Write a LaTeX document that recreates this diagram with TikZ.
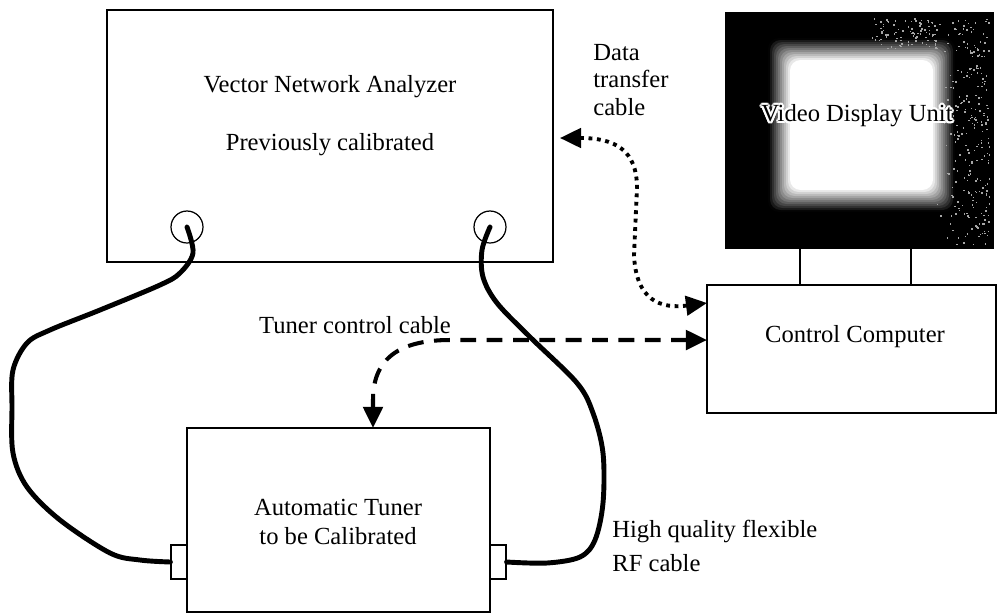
\documentclass[tikz,border=0pt]{standalone}
\usepackage{fontspec}
\setmainfont{Liberation Serif}
\usepackage{contour}
\contourlength{1.2pt}
\usetikzlibrary{arrows.meta}

\tikzset{
  box/.style={draw, line width=0.9pt, inner sep=0pt, outer sep=0pt},
  txt/.style={font=\fontsize{14}{16}\selectfont, inner sep=0pt, align=center},
  port/.style={draw, circle, line width=0.7pt, minimum size=0.64cm, inner sep=0pt},
  plug/.style={draw, line width=0.7pt, minimum width=0.32cm, minimum height=0.68cm, inner sep=0pt},
  cable/.style={line width=2.8pt, line cap=round},
  twoway/.style={{Triangle[length=12pt,width=11pt]}-{Triangle[length=12pt,width=11pt]}},
  datalink/.style={twoway, line width=2.2pt, dash pattern=on 2.2pt off 2.6pt},
  ctrllink/.style={twoway, line width=2.3pt, dash pattern=on 9pt off 6pt}
}

\begin{document}
\begin{tikzpicture}[x=0.02cm, y=-0.02cm]
  \useasboundingbox (0,0) rectangle (997,613);

  % instruments
  \node[box, minimum width=8.92cm, minimum height=5.04cm] (vna) at (330,136) {};
  \node[box, minimum width=6.06cm, minimum height=3.68cm] (tun) at (338.5,520) {};
  \node[box, minimum width=5.78cm, minimum height=2.56cm] (cc) at (851.5,349) {};
  \node[box, fill=black, minimum width=5.34cm, minimum height=4.70cm] (mon) at (859.5,130.5) {};

  % screen glow and speckle
  \foreach \d in {22,20,...,0}{
    \pgfmathtruncatemacro\c{4.5*\d}
    \fill[black!\c, rounded corners=6] (790-\d,60-\d) rectangle (933+\d,190+\d);
  }
  \pgfmathsetseed{7}
  \foreach \i in {1,...,260}
    \fill[black!35] ({935+sqrt(rnd)*54},{18+rnd*226}) rectangle +(1.5,1.5);
  \foreach \i in {1,...,90}
    \fill[black!35] ({870+rnd*70},{18+rnd*30}) rectangle +(1.5,1.5);

  % monitor stand
  \draw[line width=0.9pt] ([xshift=-1.19cm]mon.south) -- ([xshift=-1.19cm]mon.south |- cc.north);
  \draw[line width=0.9pt] ([xshift=1.03cm]mon.south) -- ([xshift=1.03cm]mon.south |- cc.north);

  % ports and plugs
  \node[port] (p1) at (187,227) {};
  \node[port] (p2) at (490,227) {};
  \node[plug] (j1) at (179,562) {};
  \node[plug] (j2) at (498,562) {};

  % labels
  \node[txt] (vnat) at (330,87) {Vector Network Analyzer};
  \node[txt] (vnas) at (330,145) {Previously calibrated};
  \node[txt, font=\fontsize{14}{15.5}\selectfont, align=left, anchor=west] (dtc) at (593,80) {Data\\transfer\\cable};
  \node[txt] (tcc) at (355,325) {Tuner control cable};
  \node[txt] (cct) at (855,337) {Control Computer};
  \node[txt, font=\fontsize{14}{16.5}\selectfont] (tunt) at (338,522) {Automatic Tuner\\ to be Calibrated};
  \node[txt, font=\fontsize{14}{19}\selectfont, align=left, anchor=west] (rfc) at (612,546) {High quality flexible\\RF cable};
  \node[txt] (vdu) at (857,117) {\contour{white}{Video Display Unit}};

  % RF cables
  \draw[cable] plot[smooth, tension=0.55] coordinates {(p1.center) (193,253) (180,273) (160,285)
    (100,310) (50,330) (27,343) (13,370) (12,407) (13,453) (27,487) (60,520) (110,553)
    (140,560) (j1.west)};
  \draw[cable] plot[smooth, tension=0.55] coordinates {(p2.center) (482,250) (483,277) (497,303)
    (530,337) (577,383) (593,413) (603,453) (603,503) (595,540) (580,557) (547,563) (j2.east)};

  % data transfer cable
  \draw[datalink] ([xshift=0.14cm, yshift=-0.04cm]vna.east) .. controls (615,138) and (637,150) .. (637,188)
    -- (634,255) .. controls (636,300) and (660,309) .. ([yshift=0.92cm]cc.west);

  % tuner control cable
  \draw[ctrllink] ([yshift=0.18cm]cc.west) -- (450,340) .. controls (395,340) and (373,362) .. (373,400)
    -- ([xshift=0.69cm]tun.north);
\end{tikzpicture}
\end{document}
